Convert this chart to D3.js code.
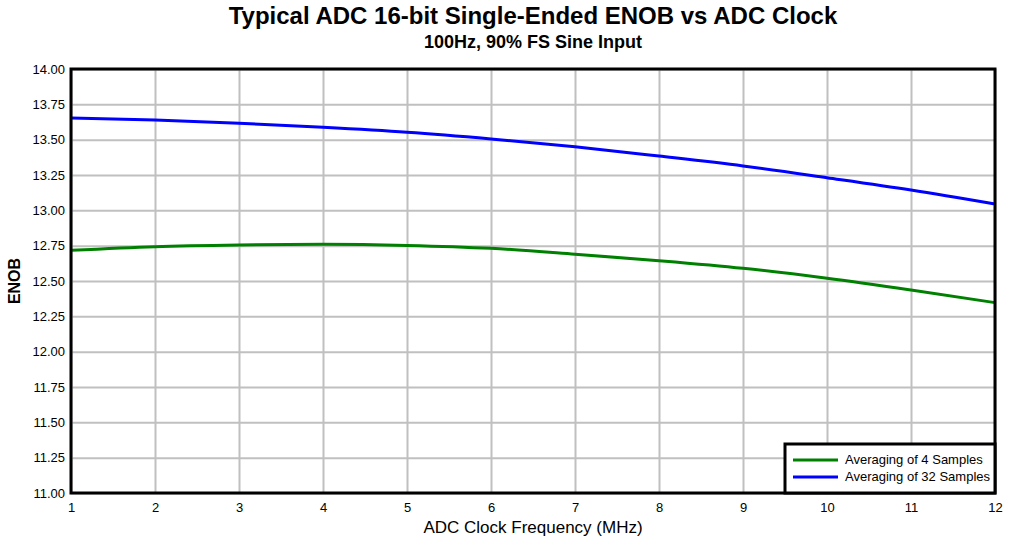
<!DOCTYPE html>
<html lang="en">
<head>
  <meta charset="UTF-8" />
  <title>Typical ADC ENOB vs ADC Clock</title>
  <script src="https://d3js.org/d3.v7.min.js"></script>
  <style>
    body { margin: 0; background: #fff; }
    svg { display: block; font-family: "Liberation Sans", Arial, sans-serif; }
  </style>
</head>
<body>
  <div id="chart"></div>
  <script>
    // ADC clock frequency (MHz)
    var clockMHz = [1, 2, 3, 4, 5, 6, 7, 8, 9, 10, 11, 12];
    // ENOB
    var avg4 = [12.717, 12.743, 12.755, 12.760, 12.752, 12.731, 12.690, 12.644, 12.590, 12.519, 12.436, 12.347];
    var avg32 = [13.653, 13.639, 13.616, 13.587, 13.552, 13.505, 13.450, 13.384, 13.314, 13.231, 13.144, 13.045];
    var seriesNames = ['Averaging of 4 Samples', 'Averaging of 32 Samples'];
    var seriesColors = ['#008000', '#0000ff'];
    var xTicks = [1, 2, 3, 4, 5, 6, 7, 8, 9, 10, 11, 12];
    var yTicks = [11.00, 11.25, 11.50, 11.75, 12.00, 12.25, 12.50, 12.75, 13.00, 13.25, 13.50, 13.75, 14.00];

    var width = 1019, height = 545;
    var plotL = 71, plotR = 995, plotT = 69, plotB = 493;

    var x = d3.scaleLinear().domain([1, 12]).range([plotL, plotR]);
    var y = d3.scaleLinear().domain([11, 14]).range([plotB, plotT]);

    var svg = d3.select('#chart').append('svg')
      .attr('width', width)
      .attr('height', height);

    // titles
    svg.append('text')
      .attr('x', (plotL + plotR) / 2).attr('y', 24)
      .attr('text-anchor', 'middle')
      .style('font-size', '24px').style('font-weight', 'bold')
      .text('Typical ADC 16-bit Single-Ended ENOB vs ADC Clock');
    svg.append('text')
      .attr('x', (plotL + plotR) / 2).attr('y', 48)
      .attr('text-anchor', 'middle')
      .style('font-size', '18px').style('font-weight', 'bold')
      .text('100Hz, 90% FS Sine Input');

    // grid
    svg.append('g')
      .attr('transform', 'translate(0,' + plotB + ')')
      .call(d3.axisBottom(x).tickValues(xTicks).tickSize(-(plotB - plotT)).tickFormat(''))
      .call(g => g.select('.domain').remove())
      .call(g => g.selectAll('line').attr('stroke', '#c0c0c0').attr('stroke-width', 2));
    svg.append('g')
      .attr('transform', 'translate(' + plotL + ',0)')
      .call(d3.axisLeft(y).tickValues(yTicks).tickSize(-(plotR - plotL)).tickFormat(''))
      .call(g => g.select('.domain').remove())
      .call(g => g.selectAll('line').attr('stroke', '#c0c0c0').attr('stroke-width', 2));

    // tick labels
    svg.append('g')
      .attr('transform', 'translate(0,' + plotB + ')')
      .call(d3.axisBottom(x).tickValues(xTicks).tickSize(0).tickPadding(10).tickFormat(d3.format('d')))
      .call(g => g.select('.domain').remove())
      .call(g => g.selectAll('text').attr('font-family', null).style('font-size', '13px').attr('fill', '#000'));
    svg.append('g')
      .attr('transform', 'translate(' + plotL + ',0)')
      .call(d3.axisLeft(y).tickValues(yTicks).tickSize(0).tickPadding(6).tickFormat(d3.format('.2f')))
      .call(g => g.select('.domain').remove())
      .call(g => g.selectAll('text').attr('font-family', null).style('font-size', '13px').attr('fill', '#000'));

    // lines
    var line = d3.line()
      .x((d, i) => x(clockMHz[i]))
      .y(d => y(d))
      .curve(d3.curveMonotoneX);
    [avg4, avg32].forEach((vals, i) => {
      svg.append('path')
        .datum(vals)
        .attr('d', line)
        .attr('fill', 'none')
        .attr('stroke', seriesColors[i])
        .attr('stroke-width', 3);
    });

    // frame
    svg.append('rect')
      .attr('x', plotL).attr('y', plotT)
      .attr('width', plotR - plotL).attr('height', plotB - plotT)
      .attr('fill', 'none').attr('stroke', '#000').attr('stroke-width', 3);

    // axis titles
    svg.append('text')
      .attr('x', (plotL + plotR) / 2).attr('y', 533)
      .attr('text-anchor', 'middle')
      .style('font-size', '17px')
      .text('ADC Clock Frequency (MHz)');
    svg.append('text')
      .attr('transform', 'translate(20,' + ((plotT + plotB) / 2) + ') rotate(-90)')
      .attr('text-anchor', 'middle')
      .style('font-size', '16px').style('font-weight', 'bold')
      .text('ENOB');

    // legend
    var lg = svg.append('g');
    lg.append('rect')
      .attr('x', 785).attr('y', 444)
      .attr('width', plotR - 785).attr('height', plotB - 444)
      .attr('fill', '#fff').attr('stroke', '#000').attr('stroke-width', 3);
    seriesNames.forEach((name, i) => {
      var ly = 460 + i * 17;
      lg.append('line')
        .attr('x1', 793).attr('x2', 838)
        .attr('y1', ly).attr('y2', ly)
        .attr('stroke', seriesColors[i]).attr('stroke-width', 3);
      lg.append('text')
        .attr('x', 845).attr('y', ly + 4)
        .style('font-size', '13px')
        .text(name);
    });
  </script>
</body>
</html>
